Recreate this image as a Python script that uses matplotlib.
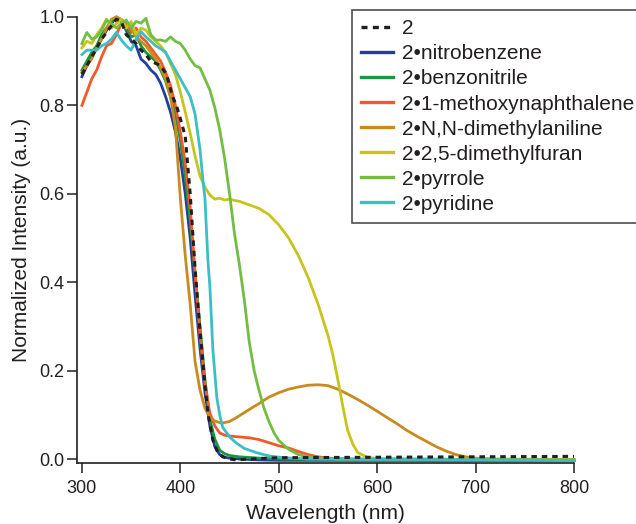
import matplotlib
matplotlib.use("Agg")
import matplotlib.pyplot as plt

plt.rcParams["font.family"] = ["Liberation Sans", "DejaVu Sans"]

# ---- data (wavelength in nm, normalized intensity) ----
wl_2 = [300, 310, 320, 330, 335, 340, 345, 350, 355, 360, 365, 370, 375, 380, 386,
        392, 396, 400, 405, 410, 415, 420, 425, 428, 433, 438, 443, 450, 457, 470,
        500, 600, 700, 800]
int_2 = [0.87, 0.91, 0.95, 0.98, 0.995, 0.99, 0.96, 0.95, 0.94, 0.925, 0.915, 0.90,
         0.895, 0.89, 0.87, 0.82, 0.80, 0.77, 0.73, 0.60, 0.43, 0.29, 0.17, 0.104,
         0.043, 0.015, 0.005, 0.0, -0.002, 0.0, 0.003, 0.004, 0.005, 0.006]

wl_nitro = [300, 305, 310, 315, 320, 325, 330, 335, 340, 345, 350, 355, 360, 365, 370,
            375, 380, 385, 390, 395, 400, 405, 410, 415, 420, 425, 430, 435, 440, 445,
            450, 460, 480, 500, 600, 700, 800]
int_nitro = [0.865, 0.89, 0.91, 0.93, 0.95, 0.97, 0.985, 1.0, 0.99, 0.97, 0.945, 0.935,
             0.905, 0.895, 0.88, 0.87, 0.85, 0.82, 0.785, 0.74, 0.68, 0.60, 0.50, 0.37,
             0.25, 0.15, 0.075, 0.028, 0.01, 0.004, 0.002, 0.0, -0.002, -0.003, -0.003,
             -0.003, -0.003]

wl_bzn = [300, 305, 310, 315, 320, 325, 330, 335, 340, 345, 350, 355, 360, 365, 370,
          375, 380, 385, 390, 395, 400, 405, 410, 415, 420, 425, 430, 435, 440, 445,
          450, 460, 480, 500, 600, 800]
int_bzn = [0.88, 0.90, 0.92, 0.935, 0.96, 0.975, 0.99, 1.0, 0.99, 0.975, 0.955, 0.96,
           0.935, 0.92, 0.91, 0.90, 0.88, 0.855, 0.82, 0.78, 0.72, 0.64, 0.54, 0.42,
           0.30, 0.18, 0.09, 0.045, 0.02, 0.012, 0.008, 0.005, 0.002, 0.0, -0.002, -0.003]

wl_mnap = [300, 305, 310, 315, 320, 325, 330, 335, 340, 345, 350, 355, 360, 365, 370,
           375, 380, 385, 390, 395, 400, 405, 410, 415, 420, 425, 430, 435, 440, 445,
           450, 460, 470, 480, 490, 500, 510, 520, 530, 540, 550, 570, 800]
int_mnap = [0.80, 0.83, 0.86, 0.88, 0.91, 0.935, 0.94, 0.96, 0.985, 0.99, 0.965, 0.975,
            0.955, 0.945, 0.93, 0.915, 0.90, 0.875, 0.845, 0.80, 0.74, 0.67, 0.57, 0.42,
            0.28, 0.17, 0.104, 0.075, 0.059, 0.054, 0.052, 0.050, 0.048, 0.044, 0.037,
            0.030, 0.025, 0.017, 0.010, 0.005, 0.002, 0.0, -0.002]

wl_dma = [300, 305, 310, 315, 320, 325, 330, 335, 340, 345, 350, 355, 360, 365, 370,
          375, 380, 385, 390, 395, 400, 405, 410, 415, 420, 425, 430, 435, 442, 450,
          458, 470, 481, 490, 500, 510, 520, 530, 540, 550, 560, 570, 580, 590, 600,
          610, 620, 630, 640, 650, 660, 670, 680, 690, 700, 720, 800]
int_dma = [0.875, 0.89, 0.905, 0.93, 0.95, 0.975, 0.995, 1.0, 0.995, 0.985, 0.975,
           0.955, 0.945, 0.935, 0.92, 0.905, 0.885, 0.86, 0.82, 0.75, 0.59, 0.46, 0.35,
           0.22, 0.156, 0.115, 0.095, 0.086, 0.081, 0.085, 0.095, 0.112, 0.127, 0.140,
           0.150, 0.158, 0.163, 0.167, 0.168, 0.166, 0.158, 0.147, 0.135, 0.122, 0.108,
           0.094, 0.080, 0.065, 0.052, 0.040, 0.028, 0.018, 0.010, 0.005, 0.002, 0.0,
           -0.001]

wl_dmf = [300, 305, 310, 315, 320, 325, 330, 335, 340, 345, 350, 355, 360, 365, 370,
          375, 380, 385, 390, 395, 400, 405, 410, 415, 420, 425, 430, 435, 440, 445,
          450, 455, 460, 470, 480, 490, 500, 510, 520, 530, 540, 550, 555, 560, 565,
          570, 575, 580, 590, 600, 800]
int_dmf = [0.93, 0.945, 0.94, 0.96, 0.975, 0.995, 0.975, 0.985, 0.995, 0.975, 0.99,
           0.96, 0.975, 0.97, 0.955, 0.945, 0.935, 0.92, 0.895, 0.87, 0.83, 0.785,
           0.737, 0.685, 0.64, 0.615, 0.597, 0.588, 0.59, 0.586, 0.588, 0.585, 0.583,
           0.575, 0.567, 0.553, 0.53, 0.50, 0.46, 0.41, 0.35, 0.28, 0.235, 0.18, 0.12,
           0.065, 0.035, 0.015, 0.004, 0.001, -0.002]

wl_pyr = [300, 305, 310, 315, 320, 325, 330, 335, 340, 345, 350, 355, 360, 365, 370,
          375, 380, 385, 390, 395, 400, 405, 410, 415, 420, 425, 430, 435, 440, 445,
          450, 455, 460, 465, 470, 475, 480, 485, 490, 495, 500, 510, 520, 530, 540,
          560, 800]
int_pyr = [0.94, 0.965, 0.95, 0.955, 0.97, 0.993, 0.985, 0.975, 0.985, 0.993, 0.975,
           0.99, 0.986, 0.997, 0.96, 0.948, 0.948, 0.945, 0.955, 0.945, 0.94, 0.925,
           0.905, 0.89, 0.885, 0.86, 0.835, 0.795, 0.745, 0.68, 0.60, 0.51, 0.44, 0.36,
           0.265, 0.20, 0.155, 0.115, 0.085, 0.06, 0.042, 0.022, 0.01, 0.005, 0.002,
           0.0, -0.002]

wl_pyd = [300, 305, 310, 315, 320, 325, 330, 335, 340, 345, 350, 355, 360, 365, 370,
          375, 380, 385, 390, 395, 400, 405, 410, 415, 420, 423, 425, 428, 430, 433,
          437, 440, 443, 450, 457, 465, 478, 490, 505, 530, 800]
int_pyd = [0.915, 0.925, 0.925, 0.925, 0.935, 0.94, 0.95, 0.965, 0.948, 0.935, 0.925,
           0.95, 0.967, 0.955, 0.945, 0.935, 0.928, 0.92, 0.90, 0.88, 0.86, 0.84, 0.82,
           0.78, 0.70, 0.63, 0.59, 0.45, 0.39, 0.25, 0.14, 0.10, 0.072, 0.05, 0.036,
           0.024, 0.014, 0.007, 0.003, 0.0, -0.003]

labels = ["2", "2\u2022nitrobenzene", "2\u2022benzonitrile",
          "2\u20221-methoxynaphthalene", "2\u2022N,N-dimethylaniline",
          "2\u20222,5-dimethylfuran", "2\u2022pyrrole", "2\u2022pyridine"]
colors = ["#231F20", "#21409A", "#1A9641", "#F05A28", "#C98A1E",
          "#C8C41C", "#72BE44", "#3CBEC6"]

series = [(wl_2, int_2), (wl_nitro, int_nitro), (wl_bzn, int_bzn),
          (wl_mnap, int_mnap), (wl_dma, int_dma), (wl_dmf, int_dmf),
          (wl_pyr, int_pyr), (wl_pyd, int_pyd)]

fig = plt.figure(figsize=(6.36, 5.24), dpi=100)
ax = fig.add_axes([77 / 636, 61 / 524, 497 / 636, 446 / 524])

# draw in reverse so the dashed reference line sits on top
handles = []
for i in range(len(series) - 1, -1, -1):
    x, y = series[i]
    if i == 0:
        h, = ax.plot(x, y, color=colors[i], lw=2.2, ls=(0, (1.8, 1.6)),
                     label=labels[i], clip_on=False, zorder=10)
    else:
        h, = ax.plot(x, y, color=colors[i], lw=2.0, label=labels[i],
                     clip_on=False, zorder=2 + i)
    handles.append(h)
handles = handles[::-1]

ax.set_xlim(295, 800)
ax.set_ylim(-0.009, 1.0)
ax.set_xticks([300, 400, 500, 600, 700, 800])
ax.set_yticks([0.0, 0.2, 0.4, 0.6, 0.8, 1.0])
ax.set_yticklabels(["0.0", "0.2", "0.4", "0.6", "0.8", "1.0"])

for side in ["top", "right"]:
    ax.spines[side].set_visible(False)
for side in ["left", "bottom"]:
    ax.spines[side].set_color("#231F20")
    ax.spines[side].set_linewidth(1.2)
ax.tick_params(direction="out", length=7, width=1.1, color="#231F20",
               labelsize=13, labelcolor="#231F20", pad=2)
ax.tick_params(axis="x", pad=5)

ax.set_xlabel("Wavelength (nm)", fontsize=15, color="#231F20", labelpad=5)
ax.set_ylabel("Normalized Intensity (a.u.)", fontsize=15, color="#231F20",
              labelpad=6)

leg = fig.legend(handles=handles, labels=labels, loc="upper left",
                 bbox_to_anchor=(352 / 636, 1 - 10 / 524),
                 bbox_transform=fig.transFigure, borderaxespad=0,
                 fontsize=15, frameon=True, fancybox=False, handlelength=1.5,
                 handletextpad=0.45, labelspacing=0.29, borderpad=0.45)
leg.get_frame().set_edgecolor("#231F20")
leg.get_frame().set_linewidth(1.2)
for t in leg.get_texts():
    t.set_color("#231F20")
for lh in leg.get_lines():
    lh.set_linewidth(2.4)

fig.savefig("out.png", dpi=100)
